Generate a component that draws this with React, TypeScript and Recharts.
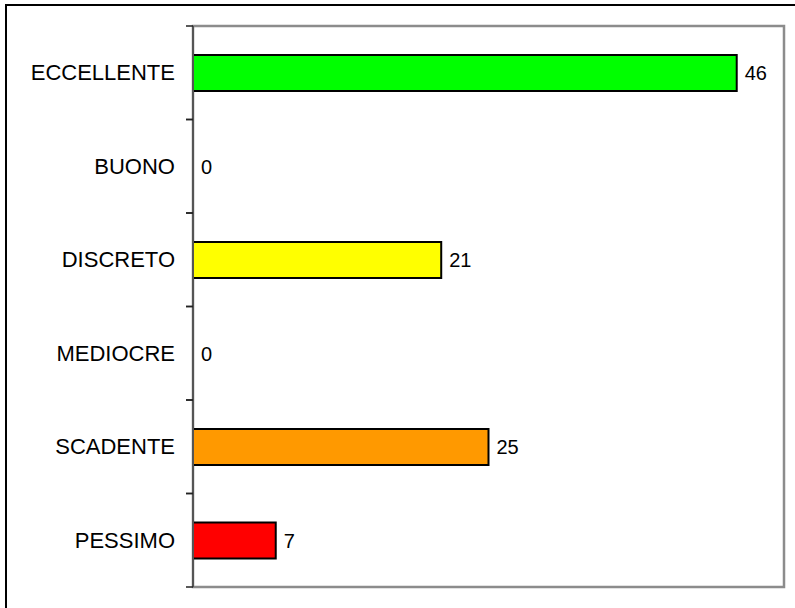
import { BarChart, Bar, XAxis, YAxis, Cell, LabelList, ReferenceArea } from "recharts";

const categories = ["ECCELLENTE", "BUONO", "DISCRETO", "MEDIOCRE", "SCADENTE", "PESSIMO"];
const values = [46, 0, 21, 0, 25, 7];
const colors = ["#00ff00", "#ffff00", "#ffff00", "#ff9900", "#ff9900", "#ff0000"];

const data = categories.map((name, i) => ({ name, value: values[i] }));

const FONT = "'Liberation Sans', Arial, sans-serif";

function CategoryTick(props: any) {
    const { x, y, payload } = props;
    const off = payload.offset ?? 0;
    return (
        <g>
            <line x1={x - 7} x2={x} y1={y - off} y2={y - off} stroke="#222" strokeWidth={1.5} />
            <line x1={x - 7} x2={x} y1={y + off} y2={y + off} stroke="#222" strokeWidth={1.5} />
            <text x={x - 18} y={y} dy="0.35em" textAnchor="end" fill="#000" fontSize={22} fontFamily={FONT}>
                {payload.value}
            </text>
        </g>
    );
}

export default function App() {
    return (
        <div style={{ position: "absolute", left: 0, top: 0, width: 795, height: 608, overflow: "hidden", background: "#fff" }}>
            <div style={{ position: "absolute", left: 5, top: 4, width: 820, height: 640, border: "2px solid #000" }} />
            <div style={{ position: "absolute", left: 0, top: 0 }}>
                <BarChart
                    width={795}
                    height={608}
                    data={data}
                    layout="vertical"
                    margin={{ top: 26, right: 11, bottom: 21, left: 0 }}
                >
                    <XAxis type="number" domain={[0, 50]} hide />
                    <ReferenceArea
                        x1={0}
                        x2={50}
                        y1="ECCELLENTE"
                        y2="PESSIMO"
                        fill="none"
                        stroke="#8c8c8c"
                        strokeWidth={2.5}
                        ifOverflow="visible"
                    />
                    <YAxis
                        type="category"
                        dataKey="name"
                        width={193}
                        axisLine={{ stroke: "#555", strokeWidth: 2 }}
                        tickLine={false}
                        tickSize={0}
                        tickMargin={0}
                        interval={0}
                        tick={<CategoryTick />}
                    />
                    <Bar dataKey="value" barSize={36} minPointSize={0.01} stroke="#000" strokeWidth={2} isAnimationActive={false}>
                        {data.map((d, i) => (
                            <Cell key={d.name} fill={colors[i]} stroke={d.value ? "#000" : "none"} />
                        ))}
                        <LabelList dataKey="value" position="right" offset={8} fill="#000" fontSize={20} fontFamily={FONT} />
                    </Bar>
                </BarChart>
            </div>
        </div>
    );
}
